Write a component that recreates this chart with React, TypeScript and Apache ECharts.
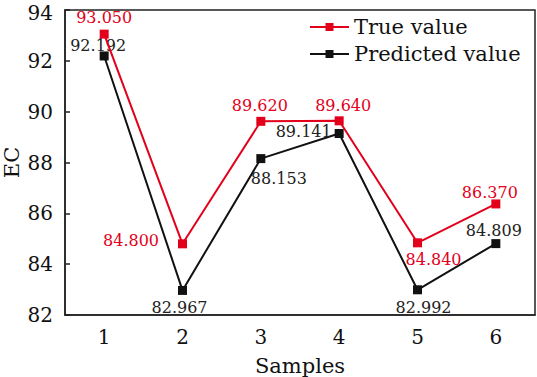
import React, { useEffect, useRef } from "react";
import * as echarts from "echarts";

const categories = ["1", "2", "3", "4", "5", "6"];
const trueValues = [93.05, 84.8, 89.62, 89.64, 84.84, 86.37];
const predictedValues = [92.192, 82.967, 88.153, 89.141, 82.992, 84.809];
const yTicks = { min: 82, max: 94, interval: 2 };

const trueLabelPos = ["top", "left", "top", "top", "bottom", "top"];
const trueLabelOffset = [[0, 1], [-14, -3], [-1, 2], [4, 2], [16, -1], [-6, 6]];
const predLabelPos = ["top", "bottom", "bottom", "left", "bottom", "top"];
const predLabelOffset = [[-6, 7], [-3, 0], [18, 2], [2, -2], [6, 0], [-2, 4]];

const FONT = "DejaVu Serif";
const RED = "#e3001b";
const BLACK = "#111111";

export default function App() {
  const ref = useRef<HTMLDivElement>(null);
  useEffect(() => {
    if (!ref.current) return;
    const chart = echarts.init(ref.current, null, { renderer: "svg" });
    const mk = (vals: number[], pos: string[], offs: number[][]) =>
      vals.map((v, i) => ({
        value: v,
        label: { position: pos[i], offset: offs[i] },
      }));
    chart.setOption({
      animation: false,
      backgroundColor: "#ffffff",
      grid: {
        left: 65,
        right: 2,
        top: 10,
        bottom: 62,
        containLabel: false,
        outerBoundsMode: "none",
        show: true,
        borderColor: "#222",
        borderWidth: 1.5,
      },
      legend: {
        orient: "vertical",
        left: 309,
        top: 15,
        padding: 0,
        itemWidth: 39,
        itemHeight: 10,
        itemGap: 3,
        textStyle: { fontFamily: FONT, fontSize: 21, color: "#111", lineHeight: 24 },
        data: ["True value", "Predicted value"],
      },
      xAxis: {
        type: "category",
        data: categories,
        boundaryGap: true,
        name: "Samples",
        nameLocation: "middle",
        nameGap: 40,
        nameMoveOverlap: false,
        nameTextStyle: { fontFamily: FONT, fontSize: 21, color: "#111" },
        axisLine: { lineStyle: { color: "#222", width: 1.5 } },
        axisTick: { inside: true, alignWithLabel: true, length: 5, lineStyle: { color: "#222", width: 1.5 } },
        axisLabel: { fontFamily: FONT, fontSize: 20, color: "#111", margin: 12 },
        splitLine: { show: false },
      },
      yAxis: {
        type: "value",
        min: yTicks.min,
        max: yTicks.max,
        interval: yTicks.interval,
        name: "EC",
        nameLocation: "middle",
        nameGap: 43,
        nameMoveOverlap: false,
        nameTextStyle: { fontFamily: FONT, fontSize: 21, color: "#111" },
        axisLine: { show: true, lineStyle: { color: "#222", width: 1.5 } },
        axisTick: { show: true, inside: true, length: 5, lineStyle: { color: "#222", width: 1.5 } },
        axisLabel: {
          fontFamily: FONT,
          fontSize: 20,
          color: "#111",
          margin: 12,
          formatter: (v: number) => (v === yTicks.max ? `{t|${v}}` : `{n|${v}}`),
          rich: {
            t: { fontFamily: FONT, fontSize: 20, color: "#111", lineHeight: 14, padding: [5, 0, 0, 0] },
            n: { fontFamily: FONT, fontSize: 20, color: "#111", lineHeight: 16 },
          },
        },
        splitLine: { show: false },
      },
      series: [
        {
          name: "True value",
          type: "line",
          data: mk(trueValues, trueLabelPos, trueLabelOffset),
          symbol: "rect",
          symbolSize: 9,
          itemStyle: { color: RED },
          lineStyle: { color: RED, width: 2 },
          label: {
            show: true,
            color: RED,
            fontFamily: FONT,
            fontSize: 16,
            formatter: (p: any) => Number(p.value).toFixed(3),
          },
          z: 3,
        },
        {
          name: "Predicted value",
          type: "line",
          data: mk(predictedValues, predLabelPos, predLabelOffset),
          symbol: "rect",
          symbolSize: 9,
          itemStyle: { color: BLACK },
          lineStyle: { color: BLACK, width: 2 },
          label: {
            show: true,
            color: "#222",
            fontFamily: FONT,
            fontSize: 16,
            formatter: (p: any) => Number(p.value).toFixed(3),
          },
          z: 2,
        },
      ],
    });
    return () => chart.dispose();
  }, []);
  return <div ref={ref} style={{ width: 537, height: 377, position: "absolute", left: 0, top: 0 }} />;
}
